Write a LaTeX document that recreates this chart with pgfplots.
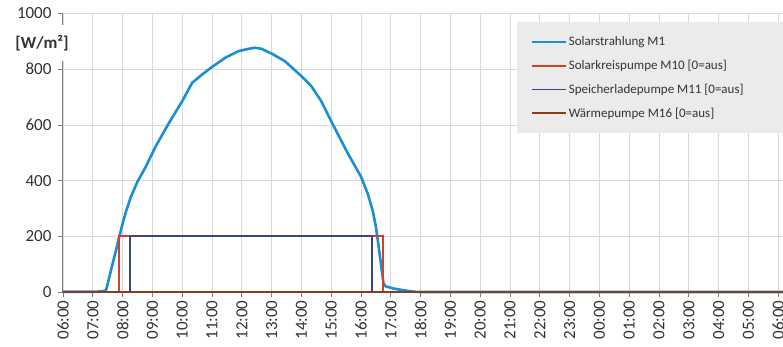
\documentclass[border=0pt]{standalone}
\usepackage{fontspec}
\setmainfont{Carlito}
\usepackage{pgfplots}
\pgfplotsset{compat=1.18}
\definecolor{cSolar}{HTML}{1B8FD2}
\definecolor{cRed}{HTML}{D43F2A}
\definecolor{cDBlue}{HTML}{3A4585}
\definecolor{cBrown}{HTML}{8B3A1E}
\definecolor{gridc}{HTML}{D9D9D9}
\definecolor{axisc}{HTML}{808080}
\definecolor{labc}{HTML}{333333}
\definecolor{legc}{HTML}{EBEBEB}
\begin{document}
\begin{tikzpicture}
\begin{axis}[
  at={(0,0)}, anchor=south west,
  scale only axis, width=720pt, height=278.5pt,
  xmin=6, xmax=30.16, ymin=0, ymax=1000,
  xtick={6,7,...,30},
  xticklabels={06:00,07:00,08:00,09:00,10:00,11:00,12:00,13:00,14:00,15:00,16:00,17:00,18:00,19:00,20:00,21:00,22:00,23:00,00:00,01:00,02:00,03:00,04:00,05:00,06:00},
  ytick={0,200,...,1000},
  grid=major,
  major grid style={draw=gridc, line width=0.8pt},
  axis x line*=bottom, axis y line*=left,
  axis line style={draw=axisc, line width=1pt, -},
  tick style={draw=axisc, line width=0.8pt},
  tick align=outside, major tick length=5pt,
  ticklabel style={font=\fontsize{17}{20}\selectfont, text=labc},
  xticklabel style={rotate=90, anchor=east},
  yticklabel style={xshift=-3pt},
  /pgf/number format/assume math mode=true,
  /pgf/number format/1000 sep={},
  clip=false,
  legend cell align=left,
  legend style={at={(axis description cs:0.6306,0.9695)}, anchor=north west,
    fill=legc, draw=none, font=\fontsize{13}{15}\selectfont, text=labc,
    inner xsep=13pt, inner ysep=12.5pt, row sep=9pt},
  legend image code/.code={\draw[mark repeat=2,mark phase=2,#1] plot coordinates {(0pt,0pt) (17pt,0pt) (34pt,0pt)};},
]
\addplot[color=cSolar, line width=2.6pt, line join=round] coordinates {
(6,1) (7,1) (7.3,2) (7.444,6) (7.667,102) (7.889,198) (8.0,246) (8.111,288)
(8.278,342) (8.5,396) (8.778,450) (9.111,523) (9.556,607) (10.0,685)
(10.333,751) (10.667,781) (11.0,808) (11.444,841) (11.889,865) (12.222,873)
(12.444,877) (12.667,873) (13.0,856) (13.444,829) (14.0,775) (14.333,739)
(14.667,685) (15.0,613) (15.556,498) (16.0,414) (16.222,354) (16.389,294)
(16.5,234) (16.578,174) (16.667,102) (16.756,30) (16.833,20) (17.111,12)
(17.444,6) (17.778,1) (18,0) (30.16,0)};
\addlegendentry{\makebox[208pt][l]{Solarstrahlung M1}}
\addplot[color=cRed, line width=1.8pt] coordinates {
(6,0) (7.87,0) (7.87,200) (16.73,200) (16.73,0) (30.16,0)};
\addlegendentry{\makebox[208pt][l]{Solarkreispumpe M10 [0=aus]}}
\addplot[color=cDBlue, line width=1.8pt] coordinates {
(6,0) (8.24,0) (8.24,200) (16.36,200) (16.36,0) (30.16,0)};
\addlegendentry{\makebox[208pt][l]{Speicherladepumpe M11 [0=aus]}}
\addplot[color=cBrown, line width=2pt] coordinates {
(6,0) (30.16,0)};
\addlegendentry{\makebox[208pt][l]{Wärmepumpe M16 [0=aus]}}
\end{axis}
\node[fill=white, font=\bfseries\fontsize{17}{20}\selectfont, text=labc,
  inner xsep=1pt, minimum height=36pt] at (-21pt,249pt) {[W/m²]};
\pgfresetboundingbox
\useasboundingbox (-63pt,-54pt) rectangle (720pt,292pt);
\end{tikzpicture}
\end{document}
